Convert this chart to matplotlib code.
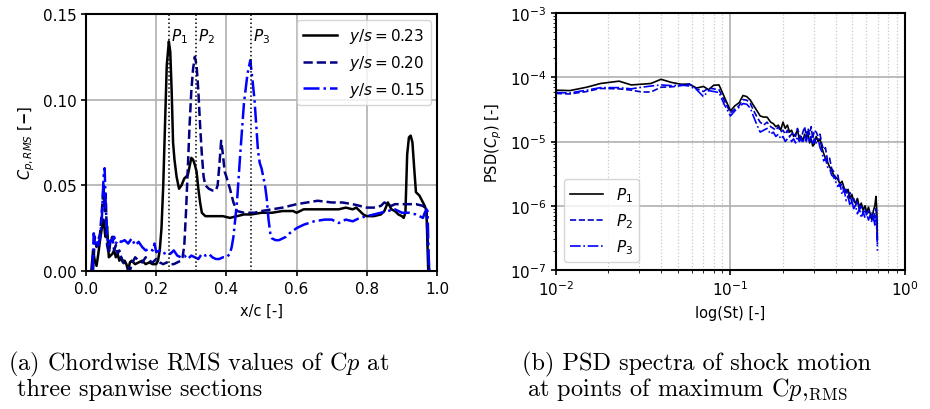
import numpy as np
import matplotlib
matplotlib.use('Agg')
from matplotlib import pyplot as plt

# chordwise Cp_RMS, three spanwise sections
x_023 = [0.015, 0.020, 0.025, 0.030, 0.035, 0.040, 0.045, 0.050, 0.055, 0.060,
         0.065, 0.070, 0.075, 0.080, 0.085, 0.090, 0.095, 0.100, 0.105, 0.110,
         0.115, 0.120, 0.125, 0.130, 0.140, 0.150, 0.160, 0.170, 0.180, 0.190,
         0.200, 0.205, 0.210, 0.215, 0.220, 0.225, 0.230, 0.236, 0.240, 0.244,
         0.248, 0.252, 0.258, 0.265, 0.272, 0.280, 0.290, 0.300, 0.305, 0.310,
         0.315, 0.320, 0.325, 0.330, 0.335, 0.340, 0.350, 0.370, 0.390, 0.410,
         0.430, 0.450, 0.470, 0.500, 0.530, 0.560, 0.590, 0.600, 0.620, 0.650,
         0.680, 0.700, 0.720, 0.740, 0.760, 0.770, 0.780, 0.790, 0.800, 0.820,
         0.840, 0.850, 0.860, 0.870, 0.880, 0.890, 0.900, 0.905, 0.910, 0.915,
         0.920, 0.925, 0.930, 0.935, 0.940, 0.950, 0.960, 0.965, 0.970, 0.975]
cp_023 = [0.000, 0.012, 0.006, 0.003, 0.010, 0.018, 0.025, 0.030, 0.020, 0.026,
          0.008, 0.009, 0.010, 0.012, 0.008, 0.010, 0.006, 0.008, 0.005, 0.006,
          0.004, 0.000, 0.005, 0.006, 0.004, 0.005, 0.006, 0.004, 0.005, 0.004,
          0.004, 0.006, 0.012, 0.025, 0.050, 0.085, 0.120, 0.134, 0.128, 0.105,
          0.075, 0.065, 0.055, 0.048, 0.050, 0.054, 0.056, 0.066, 0.065, 0.062,
          0.058, 0.048, 0.040, 0.034, 0.033, 0.032, 0.032, 0.032, 0.032, 0.031,
          0.032, 0.033, 0.033, 0.034, 0.034, 0.035, 0.035, 0.034, 0.036, 0.036,
          0.036, 0.036, 0.036, 0.037, 0.036, 0.037, 0.035, 0.033, 0.032, 0.032,
          0.033, 0.035, 0.040, 0.036, 0.035, 0.033, 0.032, 0.031, 0.034, 0.068,
          0.078, 0.079, 0.075, 0.060, 0.046, 0.044, 0.040, 0.038, 0.035, 0.000]

x_020 = [0.020, 0.025, 0.030, 0.035, 0.040, 0.045, 0.050, 0.053, 0.056, 0.060,
         0.065, 0.070, 0.075, 0.080, 0.085, 0.090, 0.095, 0.100, 0.105, 0.110,
         0.120, 0.125, 0.130, 0.140, 0.150, 0.160, 0.170, 0.180, 0.190, 0.200,
         0.210, 0.220, 0.230, 0.240, 0.250, 0.260, 0.270, 0.275, 0.280, 0.285,
         0.290, 0.295, 0.300, 0.305, 0.310, 0.315, 0.320, 0.325, 0.330, 0.335,
         0.340, 0.350, 0.360, 0.370, 0.375, 0.380, 0.385, 0.390, 0.395, 0.400,
         0.410, 0.420, 0.430, 0.450, 0.480, 0.500, 0.530, 0.560, 0.600, 0.630,
         0.660, 0.700, 0.730, 0.760, 0.780, 0.800, 0.820, 0.840, 0.850, 0.860,
         0.870, 0.880, 0.900, 0.920, 0.940, 0.960, 0.965, 0.970, 0.975, 0.978]
cp_020 = [0.000, 0.020, 0.014, 0.018, 0.022, 0.035, 0.050, 0.035, 0.045, 0.015,
          0.010, 0.018, 0.020, 0.012, 0.015, 0.010, 0.012, 0.008, 0.006, 0.004,
          0.002, 0.000, 0.004, 0.008, 0.006, 0.005, 0.008, 0.006, 0.005, 0.007,
          0.005, 0.004, 0.005, 0.004, 0.004, 0.005, 0.006, 0.008, 0.015, 0.035,
          0.060, 0.085, 0.105, 0.118, 0.125, 0.120, 0.105, 0.085, 0.068, 0.055,
          0.050, 0.048, 0.047, 0.047, 0.050, 0.062, 0.076, 0.068, 0.058, 0.055,
          0.048, 0.040, 0.035, 0.034, 0.034, 0.035, 0.036, 0.037, 0.039, 0.040,
          0.041, 0.040, 0.040, 0.039, 0.038, 0.037, 0.037, 0.038, 0.040, 0.039,
          0.038, 0.039, 0.039, 0.039, 0.039, 0.038, 0.037, 0.036, 0.010, 0.000]

x_015 = [0.018, 0.022, 0.026, 0.030, 0.035, 0.040, 0.045, 0.048, 0.050, 0.053,
         0.056, 0.060, 0.065, 0.070, 0.075, 0.080, 0.085, 0.090, 0.100, 0.110,
         0.120, 0.130, 0.140, 0.150, 0.160, 0.170, 0.180, 0.190, 0.195, 0.200,
         0.210, 0.220, 0.230, 0.240, 0.250, 0.260, 0.270, 0.280, 0.290, 0.300,
         0.310, 0.320, 0.330, 0.340, 0.350, 0.360, 0.370, 0.380, 0.390, 0.400,
         0.410, 0.415, 0.420, 0.425, 0.430, 0.440, 0.450, 0.460, 0.468, 0.475,
         0.480, 0.485, 0.490, 0.495, 0.500, 0.505, 0.510, 0.515, 0.520, 0.525,
         0.530, 0.540, 0.550, 0.560, 0.570, 0.580, 0.600, 0.620, 0.650, 0.680,
         0.700, 0.720, 0.740, 0.760, 0.780, 0.800, 0.820, 0.840, 0.860, 0.880,
         0.900, 0.920, 0.940, 0.950, 0.960, 0.965, 0.970, 0.973, 0.976, 0.978]
cp_015 = [0.000, 0.022, 0.016, 0.018, 0.015, 0.020, 0.030, 0.045, 0.055, 0.060,
          0.040, 0.020, 0.015, 0.018, 0.017, 0.020, 0.016, 0.018, 0.017, 0.018,
          0.016, 0.019, 0.015, 0.017, 0.014, 0.012, 0.013, 0.012, 0.016, 0.011,
          0.012, 0.010, 0.011, 0.010, 0.012, 0.009, 0.008, 0.009, 0.007, 0.009,
          0.008, 0.007, 0.010, 0.009, 0.010, 0.008, 0.007, 0.007, 0.008, 0.008,
          0.010, 0.014, 0.020, 0.030, 0.040, 0.070, 0.098, 0.115, 0.123, 0.110,
          0.100, 0.085, 0.070, 0.063, 0.060, 0.055, 0.050, 0.042, 0.030, 0.022,
          0.019, 0.018, 0.018, 0.019, 0.020, 0.022, 0.025, 0.027, 0.029, 0.030,
          0.030, 0.028, 0.030, 0.029, 0.031, 0.032, 0.033, 0.034, 0.035, 0.036,
          0.034, 0.034, 0.033, 0.032, 0.031, 0.034, 0.036, 0.035, 0.010, 0.000]

# shock positions P1..P3
x_shock = [0.237, 0.314, 0.469]
shock_names = ['$P_1$', '$P_2$', '$P_3$']

# PSD spectra at P1..P3
st = [0.010, 0.012, 0.015, 0.018, 0.023, 0.027, 0.031, 0.035, 0.040, 0.046,
      0.052, 0.058, 0.064, 0.070, 0.075, 0.080, 0.086, 0.092, 0.100, 0.106,
      0.112, 0.118, 0.124, 0.130, 0.136, 0.142, 0.148, 0.155, 0.162, 0.170,
      0.176, 0.182, 0.188, 0.194, 0.200, 0.206, 0.212, 0.218, 0.224, 0.230,
      0.236, 0.242, 0.248, 0.254, 0.260, 0.266, 0.272, 0.278, 0.284, 0.290,
      0.296, 0.302, 0.310, 0.318, 0.326, 0.334, 0.342, 0.350, 0.360, 0.370,
      0.380, 0.390, 0.400, 0.412, 0.424, 0.436, 0.448, 0.460, 0.472, 0.484,
      0.496, 0.508, 0.520, 0.534, 0.548, 0.562, 0.576, 0.590, 0.604, 0.618,
      0.632, 0.646, 0.660, 0.672, 0.682, 0.690, 0.695]
psd_p1 = [6.3e-5, 6.2e-5, 7.0e-5, 8.0e-5, 8.7e-5, 7.6e-5, 7.8e-5, 8.0e-5, 9.3e-5, 8.3e-5,
          7.8e-5, 7.8e-5, 6.8e-5, 7.2e-5, 6.4e-5, 7.5e-5, 7.6e-5, 5.0e-5, 3.0e-5, 3.6e-5,
          4.0e-5, 5.2e-5, 5.0e-5, 4.4e-5, 3.6e-5, 3.0e-5, 2.5e-5, 2.4e-5, 2.4e-5, 2.0e-5,
          1.9e-5, 1.7e-5, 1.8e-5, 1.5e-5, 2.0e-5, 1.6e-5, 1.8e-5, 1.4e-5, 1.5e-5, 1.2e-5,
          1.3e-5, 1.5e-5, 1.1e-5, 1.2e-5, 1.0e-5, 1.3e-5, 1.1e-5, 1.4e-5, 9.5e-6, 1.1e-5,
          8.5e-6, 9.0e-6, 1.2e-5, 1.0e-5, 1.1e-5, 8.0e-6, 6.5e-6, 5.5e-6, 4.8e-6, 4.0e-6,
          3.6e-6, 3.0e-6, 2.8e-6, 2.6e-6, 2.2e-6, 2.4e-6, 1.9e-6, 1.6e-6, 1.8e-6, 1.3e-6,
          1.5e-6, 1.2e-6, 1.1e-6, 1.3e-6, 9.5e-7, 1.1e-6, 8.5e-7, 1.0e-6, 8.0e-7, 9.5e-7,
          7.5e-7, 6.0e-7, 8.5e-7, 1.0e-6, 1.4e-6, 8.0e-7, 3.0e-7]
psd_p2 = [5.6e-5, 5.5e-5, 6.0e-5, 6.7e-5, 6.6e-5, 6.3e-5, 5.9e-5, 5.9e-5, 7.0e-5, 7.1e-5,
          7.4e-5, 7.9e-5, 6.6e-5, 6.0e-5, 6.8e-5, 6.6e-5, 6.4e-5, 4.4e-5, 2.8e-5, 3.2e-5,
          3.6e-5, 4.5e-5, 4.4e-5, 3.9e-5, 3.0e-5, 2.4e-5, 2.0e-5, 1.8e-5, 2.0e-5, 1.7e-5,
          1.6e-5, 1.5e-5, 1.7e-5, 1.4e-5, 1.5e-5, 1.3e-5, 1.5e-5, 1.2e-5, 1.3e-5, 1.4e-5,
          1.2e-5, 1.6e-5, 1.3e-5, 1.1e-5, 1.4e-5, 1.7e-5, 1.2e-5, 1.6e-5, 1.3e-5, 1.7e-5,
          1.1e-5, 1.5e-5, 1.4e-5, 1.2e-5, 1.3e-5, 9.0e-6, 7.5e-6, 8.0e-6, 5.0e-6, 5.5e-6,
          3.8e-6, 3.4e-6, 2.6e-6, 3.0e-6, 2.0e-6, 2.2e-6, 1.6e-6, 1.8e-6, 1.4e-6, 1.6e-6,
          1.1e-6, 1.3e-6, 1.0e-6, 1.2e-6, 8.5e-7, 1.0e-6, 7.5e-7, 9.0e-7, 7.0e-7, 8.5e-7,
          6.5e-7, 8.0e-7, 6.0e-7, 7.5e-7, 9.0e-7, 5.0e-7, 2.5e-7]
psd_p3 = [5.8e-5, 5.7e-5, 6.3e-5, 6.9e-5, 6.9e-5, 6.6e-5, 7.0e-5, 7.3e-5, 7.6e-5, 7.4e-5,
          7.6e-5, 7.3e-5, 6.4e-5, 5.0e-5, 6.2e-5, 6.0e-5, 5.8e-5, 3.8e-5, 2.5e-5, 3.0e-5,
          3.4e-5, 3.9e-5, 3.8e-5, 3.3e-5, 2.4e-5, 1.8e-5, 1.4e-5, 1.5e-5, 1.6e-5, 1.3e-5,
          1.4e-5, 1.2e-5, 1.3e-5, 1.1e-5, 1.2e-5, 1.0e-5, 1.1e-5, 1.2e-5, 1.0e-5, 1.1e-5,
          9.5e-6, 1.2e-5, 1.0e-5, 1.1e-5, 9.5e-6, 1.2e-5, 1.0e-5, 1.3e-5, 1.0e-5, 1.2e-5,
          9.0e-6, 1.1e-5, 9.5e-6, 1.1e-5, 8.0e-6, 7.0e-6, 5.0e-6, 5.5e-6, 4.0e-6, 3.8e-6,
          3.0e-6, 2.8e-6, 2.4e-6, 2.0e-6, 2.2e-6, 1.5e-6, 1.8e-6, 1.2e-6, 1.4e-6, 1.0e-6,
          1.2e-6, 9.0e-7, 1.0e-6, 7.5e-7, 9.0e-7, 6.5e-7, 8.0e-7, 6.5e-7, 7.5e-7, 6.0e-7,
          7.0e-7, 5.5e-7, 6.5e-7, 5.0e-7, 7.0e-7, 4.0e-7, 2.0e-7]

fig = plt.figure(figsize=(9.3, 4.1), dpi=100)
ax1 = fig.add_axes([0.0925, 0.3366, 0.3774, 0.6268])
ax2 = fig.add_axes([0.5978, 0.339, 0.3753, 0.6268])

# --- (a) chordwise RMS
ax1.plot(x_023, cp_023, color='black', lw=1.8, label='$y/s=0.23$')
ax1.plot(x_020, cp_020, color='#000080', lw=1.8, ls='--', label='$y/s=0.20$')
ax1.plot(x_015, cp_015, color='#0000ff', lw=1.8, ls='-.', label='$y/s=0.15$')
for xs, name in zip(x_shock, shock_names):
    ax1.axvline(xs, color='black', ls=':', lw=1.1)
    ax1.text(xs + 0.006, 0.1375, name, fontsize=11, va='center', ha='left')
ax1.set_xlim(0, 1)
ax1.set_ylim(0, 0.15)
ax1.set_xticks(np.arange(0, 1.01, 0.2))
ax1.set_yticks([0, 0.05, 0.10, 0.15])
ax1.grid(True, color='#b0b0b0', lw=1.2)
ax1.set_xlabel('x/c [-]', fontsize=10.5, labelpad=5)
ax1.set_ylabel(r'$C_{p,RMS}$ [$\mathbf{-}$]', fontsize=10.5)
ax1.legend(loc='upper right', fontsize=11, handlelength=2.2, borderaxespad=0.4)

# --- (b) PSD
ax2.loglog(st, psd_p1, color='black', lw=1.2, label='$P_1$')
ax2.loglog(st, psd_p2, color='#0000cc', lw=1.2, ls='--', label='$P_2$')
ax2.loglog(st, psd_p3, color='#0000ff', lw=1.2, ls='-.', label='$P_3$')
ax2.set_xlim(1e-2, 1)
ax2.set_ylim(1e-7, 1e-3)
ax2.grid(True, which='major', color='#b0b0b0', lw=1.2)
ax2.grid(True, which='minor', axis='x', color='#c8c8c8', ls=':', lw=0.9)
ax2.set_xlabel('log(St) [-]', fontsize=10.5, labelpad=5)
ax2.set_ylabel('PSD($C_p$) [-]', fontsize=10.5)
ax2.legend(loc='lower left', fontsize=11, handlelength=2.2)

for ax in (ax1, ax2):
    ax.tick_params(labelsize=11, width=1.2)
    for sp in ax.spines.values():
        sp.set_linewidth(1.5)
    ax.set_axisbelow(True)

# captions
cap = dict(fontfamily='cmr10', math_fontfamily='cm', fontsize=17.5, va='center', ha='left')
fig.text(8 / 930, 1 - 364 / 410, '(a) Chordwise RMS values of C$p$ at', **cap)
fig.text(17 / 930, 1 - 390 / 410, 'three spanwise sections', **cap)
fig.text(522 / 930, 1 - 364 / 410, '(b) PSD spectra of shock motion', **cap)
fig.text(527 / 930, 1 - 390 / 410, r'at points of maximum C$p$,${}_{\mathrm{RMS}}$', **cap)

fig.savefig('out.png', dpi=100)
